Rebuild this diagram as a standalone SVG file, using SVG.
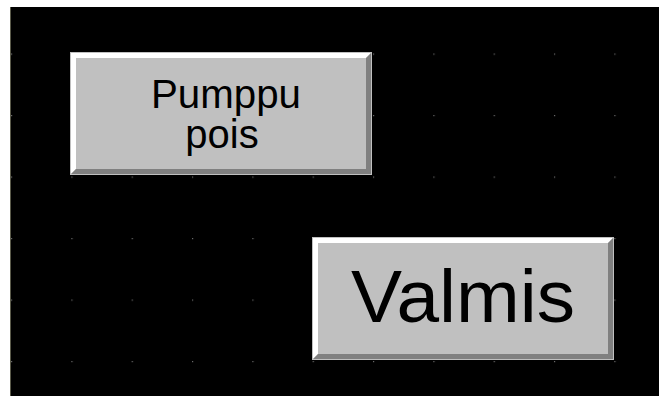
<svg xmlns="http://www.w3.org/2000/svg" width="659" height="396" viewBox="0 0 659 396">
<defs>
<style>
.face{fill:#c0c0c0}
.hi{fill:#ffffff}
.sh{fill:#808080}
.lbl{font-family:"Liberation Sans",Arial,sans-serif;fill:#000;text-anchor:middle}
.dot{fill:#6a6a6a}
</style>
<pattern id="grid" x="11" y="53.5" width="60.33" height="61.5" patternUnits="userSpaceOnUse">
<rect class="dot" x="0" y="0" width="1.2" height="1.2"/>
</pattern>
</defs>
<rect x="0" y="0" width="659" height="396" fill="#ffffff"/>
<rect x="10" y="7" width="649" height="389" fill="#000000"/>
<rect x="10" y="7" width="1" height="389" fill="#5a5a4a"/>
<rect x="11" y="7" width="648" height="389" fill="url(#grid)"/>
<g id="btn-pumppu">
<rect class="face" x="70" y="52" width="302" height="123"/>
<polygon class="hi" points="71,53 371,53 366,58 76,58 76,169 71,174"/>
<polygon class="sh" points="371,53 371,174 71,174 76,169 366,169 366,58"/>
<rect class="face" x="76" y="58" width="290" height="111"/>
<text class="lbl" x="226" y="108" font-size="40" textLength="150" lengthAdjust="spacingAndGlyphs">Pumppu</text>
<text class="lbl" x="222" y="148" font-size="40">pois</text>
</g>
<g id="btn-valmis">
<rect class="face" x="312" y="237" width="302" height="123"/>
<polygon class="hi" points="313,238 613,238 608,243 318,243 318,354 313,359"/>
<polygon class="sh" points="613,238 613,359 313,359 318,354 608,354 608,243"/>
<rect class="face" x="318" y="243" width="290" height="111"/>
<text class="lbl" x="463" y="322" font-size="74" textLength="224" lengthAdjust="spacingAndGlyphs">Valmis</text>
</g>
</svg>
